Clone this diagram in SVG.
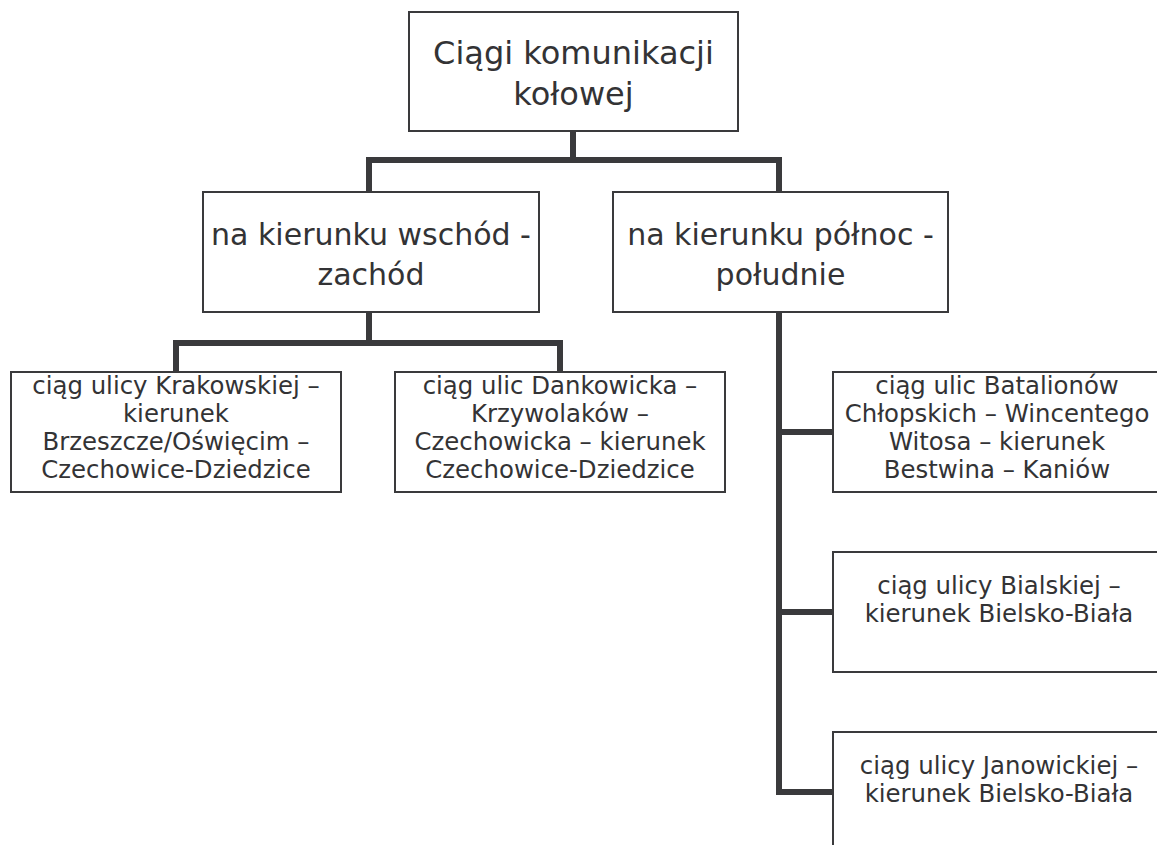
<svg xmlns="http://www.w3.org/2000/svg" width="1157" height="845" viewBox="0 0 1157 845">
<style>
.box{fill:#fff;stroke:#3a3a3c;stroke-width:2}
.t{font-family:"DejaVu Sans",Verdana,sans-serif;fill:#333335;text-anchor:middle}
.t1{font-size:32px}
.t2{font-size:30px}
.t3{font-size:24.4px}
.c{fill:none;stroke:#3a3a3c;stroke-width:6;stroke-linejoin:miter;stroke-linecap:square}
</style>
<rect width="1157" height="845" fill="#fff"/>
<g id="connectors">
<path class="c" d="M573 131V160M369 192V160H779V192"/>
<path class="c" d="M369 312V343M176 372V343H560V372"/>
<path class="c" d="M779 312V792M779 432H833M779 612H833M779 792H833"/>
</g>
<g id="n-root">
<rect class="box" x="409" y="12" width="329" height="119"/>
<text class="t t1" x="573.5" y="64">Ciągi komunikacji</text>
<text class="t t1" x="573.5" y="105">kołowej</text>
</g>
<g id="n-we">
<rect class="box" x="203" y="192" width="336" height="120"/>
<text class="t t2" x="371" y="245">na kierunku wschód -</text>
<text class="t t2" x="371" y="285">zachód</text>
</g>
<g id="n-ns">
<rect class="box" x="613" y="192" width="335" height="120"/>
<text class="t t2" x="780.5" y="245">na kierunku północ -</text>
<text class="t t2" x="780.5" y="285">południe</text>
</g>
<g id="n-krak">
<rect class="box" x="11" y="372" width="330" height="120"/>
<text class="t t3" x="176" y="394">ciąg ulicy Krakowskiej –</text>
<text class="t t3" x="176" y="422">kierunek</text>
<text class="t t3" x="176" y="450">Brzeszcze/Oświęcim –</text>
<text class="t t3" x="176" y="478">Czechowice-Dziedzice</text>
</g>
<g id="n-dank">
<rect class="box" x="395" y="372" width="330" height="120"/>
<text class="t t3" x="560" y="394">ciąg ulic Dankowicka –</text>
<text class="t t3" x="560" y="422">Krzywolaków –</text>
<text class="t t3" x="560" y="450">Czechowicka – kierunek</text>
<text class="t t3" x="560" y="478">Czechowice-Dziedzice</text>
</g>
<g id="n-bat">
<rect class="box" x="833" y="372" width="336" height="120"/>
<text class="t t3" x="997" y="394">ciąg ulic Batalionów</text>
<text class="t t3" x="997" y="422">Chłopskich – Wincentego</text>
<text class="t t3" x="997" y="450">Witosa – kierunek</text>
<text class="t t3" x="997" y="478">Bestwina – Kaniów</text>
</g>
<g id="n-bial">
<rect class="box" x="833" y="552" width="336" height="120"/>
<text class="t t3" x="999" y="594">ciąg ulicy Bialskiej –</text>
<text class="t t3" x="999" y="622">kierunek Bielsko-Biała</text>
</g>
<g id="n-jan">
<rect class="box" x="833" y="732" width="336" height="120"/>
<text class="t t3" x="999" y="774">ciąg ulicy Janowickiej –</text>
<text class="t t3" x="999" y="802">kierunek Bielsko-Biała</text>
</g>
</svg>
